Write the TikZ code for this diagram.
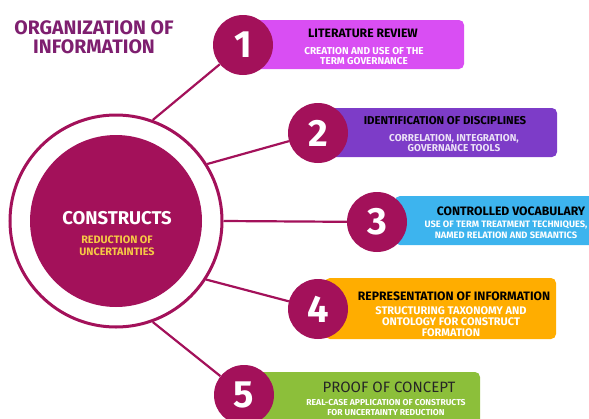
\documentclass[tikz,border=0pt]{standalone}
\usepackage{fontspec}
\setmainfont{Fira Sans}
\usetikzlibrary{backgrounds}
\definecolor{plum}{HTML}{A3115A}
\definecolor{titleplum}{HTML}{7E1F6F}
\definecolor{orchid}{HTML}{D94EF3}
\definecolor{grape}{HTML}{7D3CC8}
\definecolor{skyblue}{HTML}{3DB4EE}
\definecolor{amber}{HTML}{FFAD00}
\definecolor{lime}{HTML}{8CBF3A}
\definecolor{sunny}{HTML}{F6C945}

\newcommand{\fs}[2]{\fontsize{#1}{#2}\selectfont}

\tikzset{
  num/.style={circle,fill=plum,minimum size=60pt,inner sep=0pt,text=white,
    font=\fs{38}{38}\bfseries},
  band/.style={rounded corners=5pt,inner sep=0pt},
  headtext/.style={font=\fs{12.2}{14}\bfseries,text=black},
  subtext/.style={font=\fs{10}{10}\bfseries,text=white,align=center},
  link/.style={draw=plum,line width=2.2pt},
}

\begin{document}
\begin{tikzpicture}[x=1pt,y=-1pt]
        \useasboundingbox (0,0) rectangle (589,418);

        % title
        \node[text=titleplum,align=center,font=\fs{19.5}{19}\bfseries]
          (title) at (94,37) {ORGANIZATION OF\\INFORMATION};

        % centre
        \node[draw=plum,circle,line width=3pt,minimum size=212pt] (ring) at (116,221) {};
        \node[circle,fill=plum,minimum size=172pt] (core) at (116,221) {};
        \node[text=white,font=\fs{18.5}{20}\bfseries] (cname) at (117,218) {CONSTRUCTS};
        \node[text=sunny,align=center,font=\fs{10.8}{12}\bfseries]
          (cdesc) at (117,246) {REDUCTION OF\\UNCERTAINTIES};

        % coloured bands
        \node[band,fill=orchid,minimum width=214pt,minimum height=49pt] (b1) at (357,44.5) {};
        \node[band,fill=grape,minimum width=232pt,minimum height=49pt] (b2) at (441,132.5) {};
        \node[band,fill=skyblue,minimum width=205pt,minimum height=49pt] (b3) at (497.5,220.5) {};
        \node[band,fill=amber,minimum width=231pt,minimum height=61pt] (b4) at (440.5,308.5) {};
        \node[band,fill=lime,minimum width=230pt,minimum height=58pt] (b5) at (365,401) {};

        % numbers
        \node[num] (n1) at (243,45) {1};
        \node[num] (n2) at (318,133) {2};
        \node[num] (n3) at (377,222) {3};
        \node[num] (n4) at (318,309) {4};
        \node[num] (n5) at (244,395) {5};

        \begin{scope}[on background layer]
        \draw[link] (ring.70) -- (n1);
        \draw[link] (ring.32) -- (n2);
        \draw[link] (ring.0) -- (n3);
        \draw[link] (ring.-33) -- (n4);
        \draw[link] (ring.-70) -- (n5);
        \end{scope}

        % band texts
        \node[headtext] (h1) at (363,33) {LITERATURE REVIEW};
        \node[subtext] (s1) at (364,56) {CREATION AND USE OF THE\\TERM GOVERNANCE};
        \node[headtext,font=\fs{11.4}{14}\bfseries] (h2) at (445,121) {IDENTIFICATION OF DISCIPLINES};
        \node[subtext,text=white!85!grape] (s2) at (454,143) {CORRELATION, INTEGRATION,\\GOVERNANCE TOOLS};
        \node[headtext] (h3) at (511,211) {CONTROLLED VOCABULARY};
        \node[subtext,font=\fs{9.3}{11.5}\bfseries] (s3) at (506,230)
          {USE OF TERM TREATMENT TECHNIQUES,\\NAMED RELATION AND SEMANTICS};
        \node[headtext] (h4) at (454,296) {REPRESENTATION OF INFORMATION};
        \node[subtext,font=\fs{11}{11}\bfseries] (s4) at (451,322)
          {STRUCTURING TAXONOMY AND\\ONTOLOGY FOR CONSTRUCT\\FORMATION};
        \node[font=\fs{15}{16},text=black!85] (h5) at (389,387) {PROOF OF CONCEPT};
        \node[subtext,font=\fs{8.6}{10}\bfseries] (s5) at (386,408) {REAL-CASE APPLICATION OF CONSTRUCTS\\FOR UNCERTAINTY REDUCTION};
\end{tikzpicture}
\end{document}
